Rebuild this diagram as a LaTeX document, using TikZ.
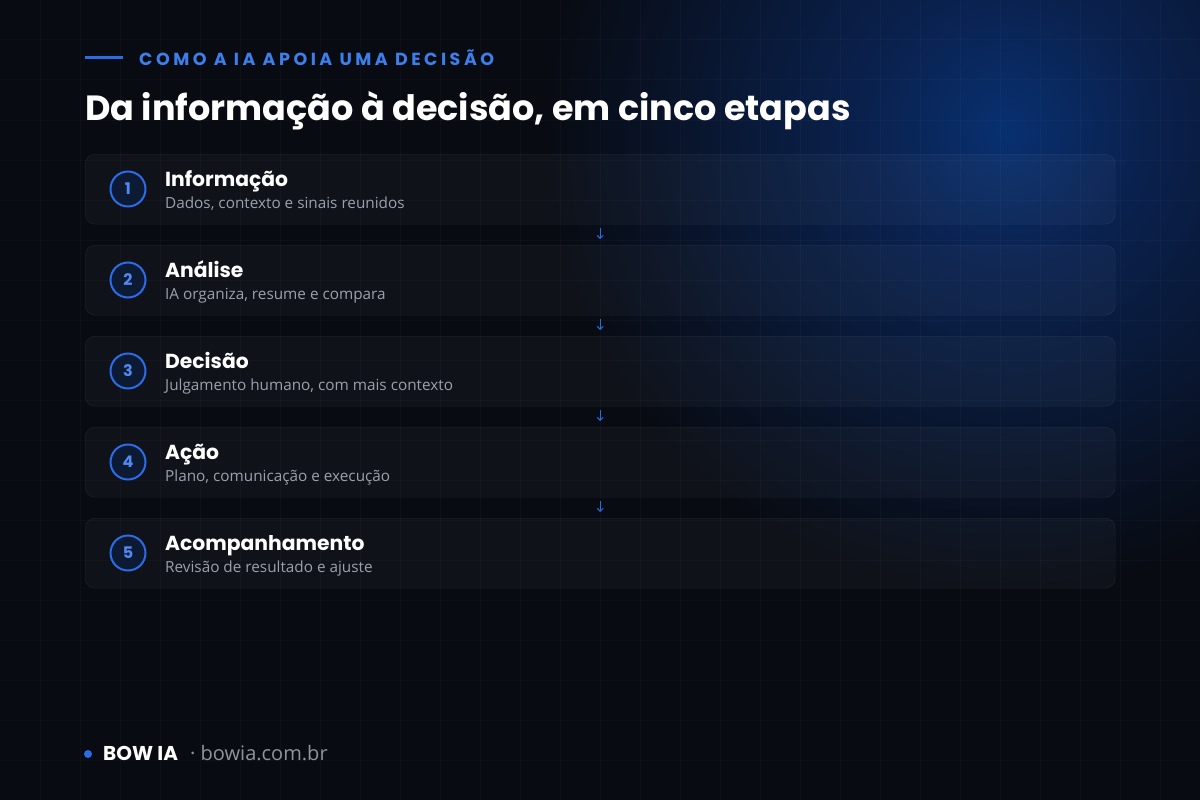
\documentclass[tikz,border=0pt]{standalone}
\usepackage{fontspec}
\setmainfont{Open Sans}
\newfontfamily\headfont{Poppins}
\newfontfamily\kickfont[LetterSpace=20]{Poppins}
\usetikzlibrary{arrows.meta, positioning}

\definecolor{bgcol}{HTML}{080B12}
\definecolor{glowc}{HTML}{083070}
\definecolor{glowmid}{HTML}{0A2250}
\definecolor{accent}{HTML}{2C6BE5}
\definecolor{kicker}{HTML}{3D7EEA}
\definecolor{numblue}{HTML}{5289F0}
\definecolor{dotfill}{HTML}{0D1A34}
\definecolor{subgray}{HTML}{9BA1AB}
\definecolor{urlgray}{HTML}{8F949C}
\pgfdeclareradialshading{glowshade}{\pgfpoint{0bp}{0bp}}{color(0bp)=(glowc); color(7bp)=(glowmid); color(25bp)=(bgcol); color(50bp)=(bgcol)}

\begin{document}
\begin{tikzpicture}[x=1pt, y=-1pt,
  stepbox/.style={draw=white, draw opacity=0.09, fill=white, fill opacity=0.03, rounded corners=10pt, minimum width=1030pt, minimum height=70pt, anchor=north west, inner sep=0pt},
  numdot/.style={circle, draw=accent, line width=2pt, fill=dotfill, minimum size=35pt, inner sep=0pt, text=numblue, font=\headfont\bfseries\fontsize{16}{16}\selectfont},
  steptitle/.style={anchor=base west, inner sep=0pt, text=white, font=\headfont\bfseries\fontsize{20.3}{20}\selectfont},
  stepsub/.style={anchor=base west, inner sep=0pt, text=subgray, font=\fontsize{15.3}{15}\selectfont},
  steparrow/.style={accent, line width=1pt, -{Straight Barb[length=3pt, width=6pt]}},
  gridline/.style={white, opacity=0.025, line width=1pt}]

\useasboundingbox (0,0) rectangle (1200,800);
\begin{scope}
\clip (0,0) rectangle (1200,800);
\fill[bgcol] (0,0) rectangle (1200,800);
\shade[shading=glowshade] (1005,130) circle (460); %glow
\foreach \gx in {40,80,...,1160} \draw[gridline] (\gx,0) -- (\gx,800);
\foreach \gy in {40,80,...,760} \draw[gridline] (0,\gy) -- (1200,\gy);
\end{scope}

% header
\draw[accent, line width=3pt] (85,58) -- (123,58);
\node[anchor=west, inner sep=0pt, text=kicker, font=\kickfont\bfseries\fontsize{17.5}{17.5}\selectfont] (kick) at (139,58) {COMO A IA APOIA UMA DECISÃO};
\node[anchor=base west, inner sep=0pt, text=white, font=\headfont\bfseries\fontsize{35}{35}\selectfont] (title) at (85,120) {Da informação à decisão, em cinco etapas};

% step 1
\node[stepbox] (s1) at (85,154) {};
\node[numdot] (n1) at (128,189) {1};
\node[steptitle] (t1) at (165,186) {Informação};
\node[stepsub] (d1) at (165,208) {Dados, contexto e sinais reunidos};

% step 2
\node[stepbox] (s2) at (85,245) {};
\node[numdot] (n2) at (128,280) {2};
\node[steptitle] (t2) at (165,277) {Análise};
\node[stepsub] (d2) at (165,299) {IA organiza, resume e compara};

% step 3
\node[stepbox] (s3) at (85,336) {};
\node[numdot] (n3) at (128,371) {3};
\node[steptitle] (t3) at (165,368) {Decisão};
\node[stepsub] (d3) at (165,390) {Julgamento humano, com mais contexto};

% step 4
\node[stepbox] (s4) at (85,427) {};
\node[numdot] (n4) at (128,462) {4};
\node[steptitle] (t4) at (165,459) {Ação};
\node[stepsub] (d4) at (165,481) {Plano, comunicação e execução};

% step 5
\node[stepbox] (s5) at (85,518) {};
\node[numdot] (n5) at (128,553) {5};
\node[steptitle] (t5) at (165,550) {Acompanhamento};
\node[stepsub] (d5) at (165,572) {Revisão de resultado e ajuste};

\draw[steparrow] ([yshift=-4pt]s1.south) -- ([yshift=6pt]s2.north); %1-2
\draw[steparrow] ([yshift=-4pt]s2.south) -- ([yshift=6pt]s3.north); %2-3
\draw[steparrow] ([yshift=-4pt]s3.south) -- ([yshift=6pt]s4.north); %3-4
\draw[steparrow] ([yshift=-4pt]s4.south) -- ([yshift=6pt]s5.north); %4-5

% footer
\fill[accent] (88,754) circle (4);
\node[anchor=base west, inner sep=0pt, text=white, font=\headfont\bfseries\fontsize{20}{20}\selectfont] (brand) at (103,760) {BOW IA};
\node[anchor=base west, inner sep=0pt, text=urlgray, font=\fontsize{20}{20}\selectfont] (url) at (190,760) {· bowia.com.br};

\end{tikzpicture}
\end{document}
